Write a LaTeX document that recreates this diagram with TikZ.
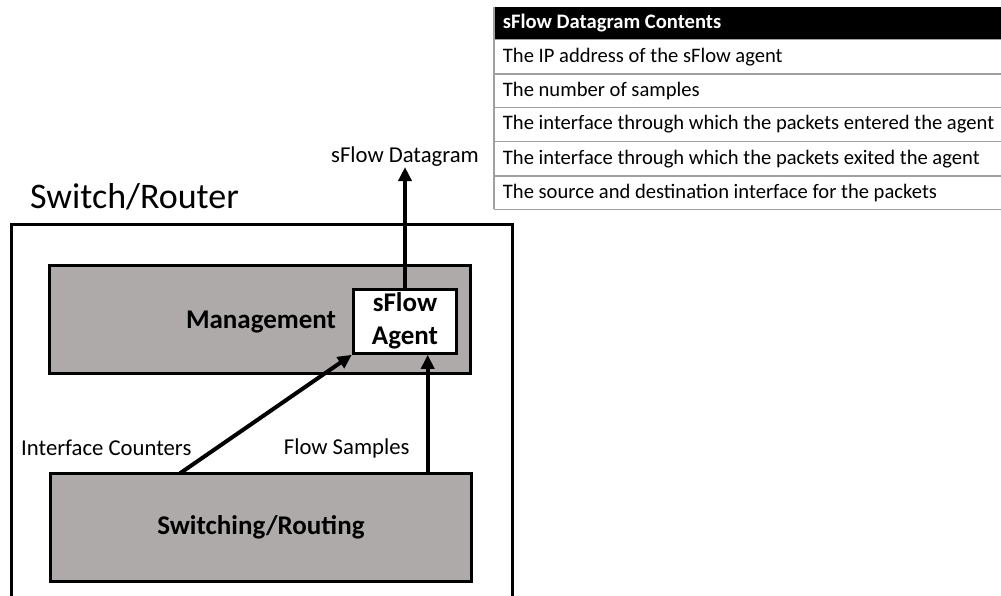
\documentclass[tikz,border=0pt]{standalone}
\usepackage{fontspec}
\setmainfont{Carlito}
\usetikzlibrary{arrows.meta,calc}
\definecolor{blockgray}{HTML}{AEAAAA}
\definecolor{rulegray}{HTML}{A0A0A0}
\tikzset{
  block/.style={draw=black, line width=3pt, fill=blockgray, inner sep=0pt},
  agentbox/.style={draw=black, line width=3pt, fill=white, inner sep=0pt, align=center,
    font=\fontsize{27}{33}\selectfont\bfseries},
  bigbold/.style={font=\fontsize{27}{33}\selectfont\bfseries, inner sep=0pt},
  lbl/.style={font=\fontsize{22.7}{27}\selectfont, inner sep=0pt},
  flow/.style={line width=4pt, -{Triangle[length=14pt,width=13pt]}},
  rowtext/.style={font=\fontsize{20.6}{25}\selectfont, anchor=west, inner sep=0pt},
  rowline/.style={draw=rulegray, line width=1.3pt},
}
\begin{document}
\begin{tikzpicture}[x=1pt, y=-1pt]
\clip (0,0) rectangle (1001,595);
\fill[white] (0,0) rectangle (1001,595);

% outer device frame (runs off the bottom edge)
\node[draw=black, line width=3pt, minimum width=501pt, minimum height=420pt, inner sep=0pt,
      anchor=north west] (frame) at (10,222.7) {};
\node[font=\fontsize{36}{43}\selectfont, anchor=west, inner sep=0pt] (title) at (30,197) {Switch/Router};

% functional blocks
\node[block, minimum width=420.7pt, minimum height=108.3pt] (mgmt) at (259.7,319.2) {};
\node[bigbold] (mgmtlbl) at (261,322.5) {Management};
\node[agentbox, minimum width=103.4pt, minimum height=64pt] (agent) at (405,321.3) {\raisebox{-2pt}{sFlow}\\\raisebox{-2pt}{Agent}};
\node[block, minimum width=420.3pt, minimum height=107.7pt, bigbold] (sw) at (260.9,527.2) {Switching/Routing};

% labels
\node[lbl] (dg) at (405,157) {sFlow Datagram};
\node[lbl] (ic) at (106.3,448) {Interface Counters};
\node[lbl] (fs) at (346.7,448) {Flow Samples};

% data paths
\coordinate (icstart) at (180,473.3);
\coordinate (fsstart) at (427.7,473.3);
\draw[flow] (icstart) -- (agent.south west);
\draw[flow] (fsstart) -- (fsstart |- agent.south);
\draw[flow] (agent.north) -- (dg.south);

% datagram contents table
\fill[black] (494,7.3) rectangle (1010,39.3);
\node[rowtext, text=white, font=\fontsize{20.6}{25}\selectfont\bfseries] (hdr) at (502.7,23.3) {sFlow Datagram Contents};
\draw[rowline] (494,39.3) -- (1010,39.3);
\draw[rowline] (494,74) -- (1010,74);
\draw[rowline] (494,107.3) -- (1010,107.3);
\draw[rowline] (494,141.7) -- (1010,141.7);
\draw[rowline] (494,176) -- (1010,176);
\draw[rowline] (494,209.3) -- (1010,209.3);
\draw[rowline] (494,7.3) -- (494,209.3);
\node[rowtext] (r1) at (502.7,56.7) {The IP address of the sFlow agent};
\node[rowtext] (r2) at (502.7,90.7) {The number of samples};
\node[rowtext] (r3) at (502.7,124.5) {The interface through which the packets entered the agent};
\node[rowtext] (r4) at (502.7,158.8) {The interface through which the packets exited the agent};
\node[rowtext] (r5) at (502.7,192.7) {The source and destination interface for the packets};
\end{tikzpicture}
\end{document}
